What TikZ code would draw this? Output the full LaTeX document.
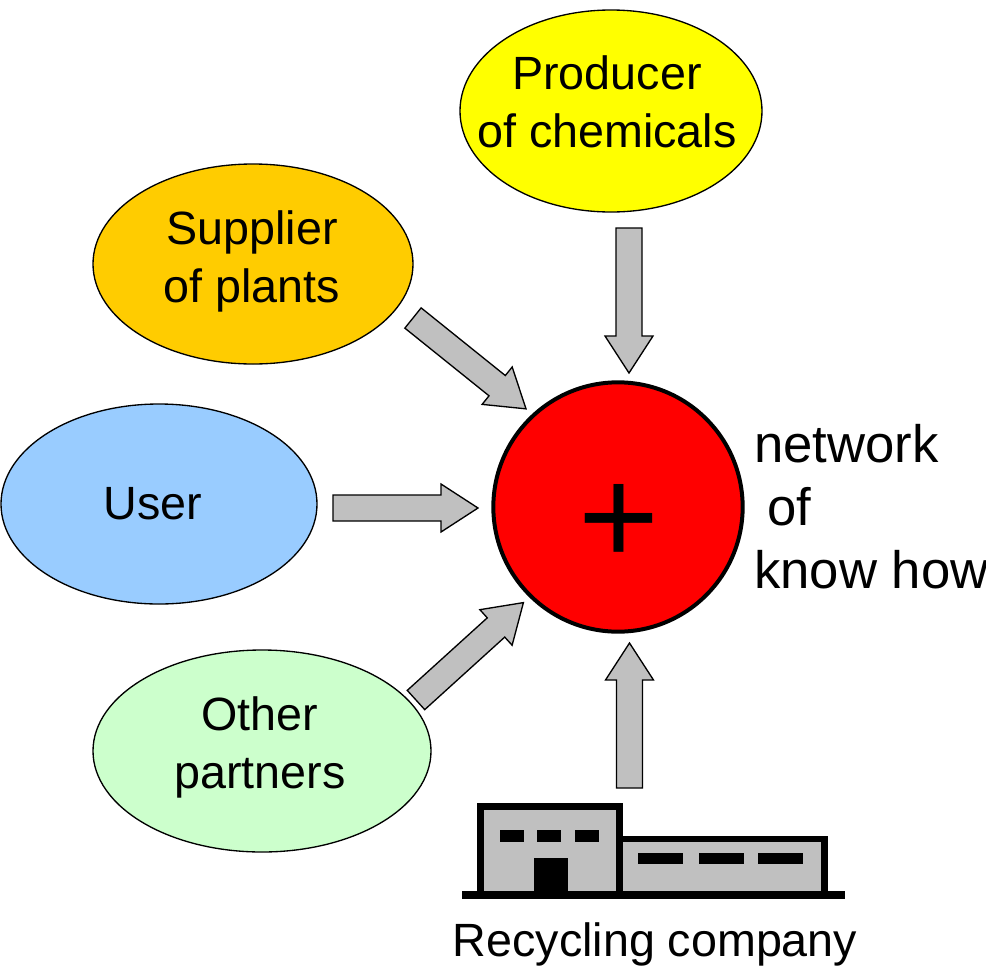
\documentclass[tikz,border=0pt]{standalone}
\usepackage{fontspec}
\setmainfont{Liberation Sans}
\usetikzlibrary{shapes.geometric}
\definecolor{supc}{HTML}{FFCC00}
\definecolor{userc}{HTML}{99CCFF}
\definecolor{prodc}{HTML}{FFFF00}
\definecolor{othc}{HTML}{CCFFCC}
\definecolor{hubc}{HTML}{FF0000}
\definecolor{greyc}{HTML}{C0C0C0}
\tikzset{
  ell/.style={ellipse, draw=black, line width=1pt, inner sep=0pt},
  lbl/.style={anchor=base, align=center, inner sep=0pt, font=\fontsize{35}{43.5}\selectfont},
  blockarrow/.style={draw=black, fill=greyc, line width=1pt, line join=miter},
  bldg/.style={draw=black, fill=greyc, line width=5.25pt},
  blk/.style={fill=black, draw=none}
}
\newcommand\blockarr[3]{%
  \draw[blockarrow, shift={(#1,#2)}, rotate=#3]
    (0,-13) -- (108,-13) -- (108,-24) -- (145,0) -- (108,24) -- (108,13) -- (0,13) -- cycle;}
\begin{document}
\begin{tikzpicture}[x=0.75pt, y=-0.75pt]
\useasboundingbox (0,0) rectangle (986,968);
% ellipses
\node[ell, fill=prodc, minimum width=226.5pt, minimum height=151.5pt] (prod) at (611,111) {};
\node[ell, fill=supc, minimum width=240pt, minimum height=150pt] (sup) at (253,264) {};
\node[ell, fill=userc, minimum width=237pt, minimum height=150pt] (user) at (159,504) {};
\node[ell, fill=othc, minimum width=253.5pt, minimum height=151.5pt] (oth) at (262,751) {};
\node[circle, draw=black, line width=3pt, fill=hubc, minimum size=187pt, inner sep=0pt] (hub) at (618,507) {};
% labels (base anchor = last line's baseline)
\node[lbl] (prodt) at (607,147) {Producer\\of chemicals};
\node[lbl] (supt) at (252,302) {Supplier\\of plants};
\node[lbl] (usert) at (153,519) {User};
\node[lbl] (otht) at (260,788) {Other\\partners};
\node[lbl, anchor=base west, align=left, font=\fontsize{39.5}{47.25}\selectfont] (nett) at (754,588) {network\\\hspace*{0.25em}of\\know how};
\node[lbl] (recyt) at (655,956) {Recycling company};
\node[anchor=base, inner sep=0pt, font=\fontsize{104}{104}\selectfont] (plus) at (619,564) {+};
% block arrows
\blockarr{629}{228}{-90}
\blockarr{629.5}{788}{90}
\blockarr{333}{508}{0}
\blockarr{413}{318}{-38.8}
\blockarr{416}{700}{42.2}
% building
\draw[bldg] (619.5,891) -- (619.5,839.5) -- (824.5,839.5) -- (824.5,891);
\fill[greyc] (623,842) rectangle (821,891);
\draw[bldg] (480.5,891) -- (480.5,806.5) -- (619.5,806.5) -- (619.5,891);
\fill[greyc] (484,810) rectangle (616,891);
\fill[blk] (462,891) rectangle (845,899);
\fill[blk] (500,830) rectangle (524,842);
\fill[blk] (537,830) rectangle (561,842);
\fill[blk] (575,830) rectangle (599,842);
\fill[blk] (534,858) rectangle (568,891);
\fill[blk] (638,853) rectangle (683,864);
\fill[blk] (699,853) rectangle (744,864);
\fill[blk] (758,853) rectangle (803,864);
\end{tikzpicture}
\end{document}
